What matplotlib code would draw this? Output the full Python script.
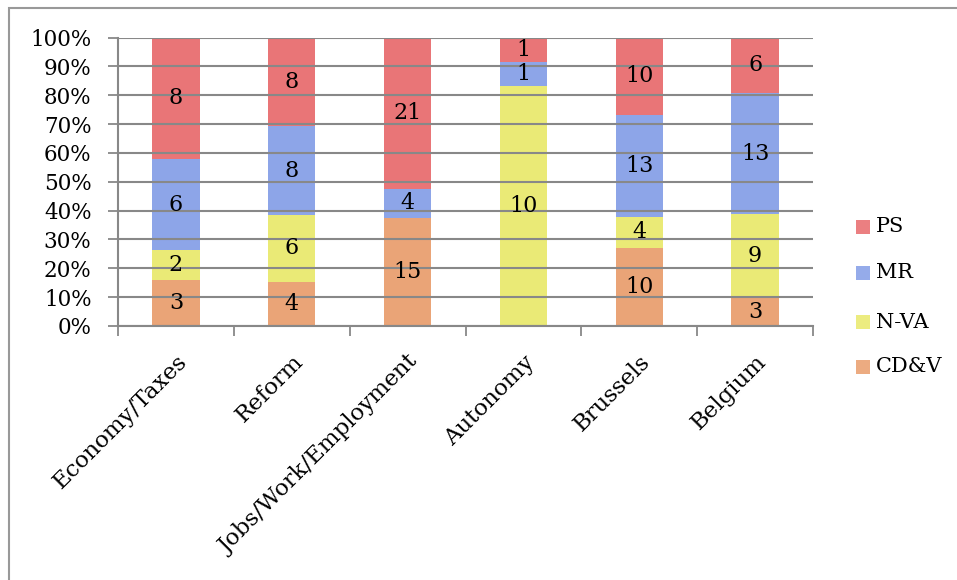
import numpy as np
import matplotlib.pyplot as plt
from matplotlib.patches import Rectangle

categories = ["Economy/Taxes", "Reform", "Jobs/Work/Employment",
              "Autonomy", "Brussels", "Belgium"]
series = ["CD&V", "N-VA", "MR", "PS"]
cdv = [3, 4, 15, 0, 10, 3]
nva = [2, 6, 0, 10, 4, 9]
mr = [6, 8, 4, 1, 13, 13]
ps = [8, 8, 21, 1, 10, 6]
colors = ["#E99C6B", "#E9E96A", "#839DE7", "#E8696B"]

plt.rcParams.update({
    "font.family": ["DejaVu Serif"],
    "font.size": 15.5,
})

W, H = 957, 580
fig = plt.figure(figsize=(W / 100, H / 100), dpi=100)
ax = fig.add_axes([118 / W, 1 - 326 / H, 695 / W, 288.5 / H])

values = np.array([cdv, nva, mr, ps], dtype=float)
totals = values.sum(axis=0)
shares = values / totals
x = np.arange(len(categories))
bottom = np.zeros(len(categories))
for name, share, raw, col in zip(series, shares, values, colors):
    ax.bar(x, share, 0.41, bottom=bottom, color=col, alpha=0.92,
           zorder=2, label=name)
    for xi, b, s, v in zip(x, bottom, share, raw):
        if v > 0:
            ax.text(xi, b + s / 2, f"{int(v)}", ha="center", va="center",
                    fontsize=16, zorder=3)
    bottom += share

ax.set_xlim(-0.5, len(categories) - 0.5)
ax.set_ylim(0, 1)
ax.set_yticks(np.arange(0, 1.01, 0.1))
ax.set_yticklabels([f"{int(round(v * 100))}%" for v in np.arange(0, 1.01, 0.1)])
ax.set_xticks(np.arange(-0.5, len(categories) + 0.5, 1), minor=False)
ax.set_xticklabels([])
ax.set_xticks(x, minor=True)
ax.set_xticklabels(categories, minor=True, rotation=45, ha="right",
                   rotation_mode="anchor", fontsize=16.5)
ax.tick_params(axis="x", which="minor", length=0, pad=18)
ax.tick_params(axis="x", which="major", length=7, color="#888888", width=1.3)
ax.tick_params(axis="y", length=7, color="#888888", width=1.3, pad=12)
ax.grid(axis="y", color="#888888", linewidth=1.5, zorder=1)
ax.set_axisbelow(False)
for s in ["top", "right"]:
    ax.spines[s].set_visible(False)
for s in ["left", "bottom"]:
    ax.spines[s].set_color("#888888")
    ax.spines[s].set_linewidth(1.5)

# legend, drawn by hand so it sits where the original one does
leg_y = [367, 322, 273, 227]
for name, col, yc in zip(series, colors, leg_y):
    fig.patches.append(Rectangle((856 / W, 1 - (yc + 7) / H), 14 / W, 14 / H,
                                 transform=fig.transFigure, facecolor=col,
                                 alpha=0.85, edgecolor="none"))
    fig.text(876 / W, 1 - yc / H, name, ha="left", va="center", fontsize=15)

fig.patches.append(Rectangle((9 / W, -0.1), 1.2, 1 - 8 / H + 0.1,
                             transform=fig.transFigure, fill=False,
                             edgecolor="#999999", linewidth=1.5))

fig.savefig("out.png", dpi=100)
